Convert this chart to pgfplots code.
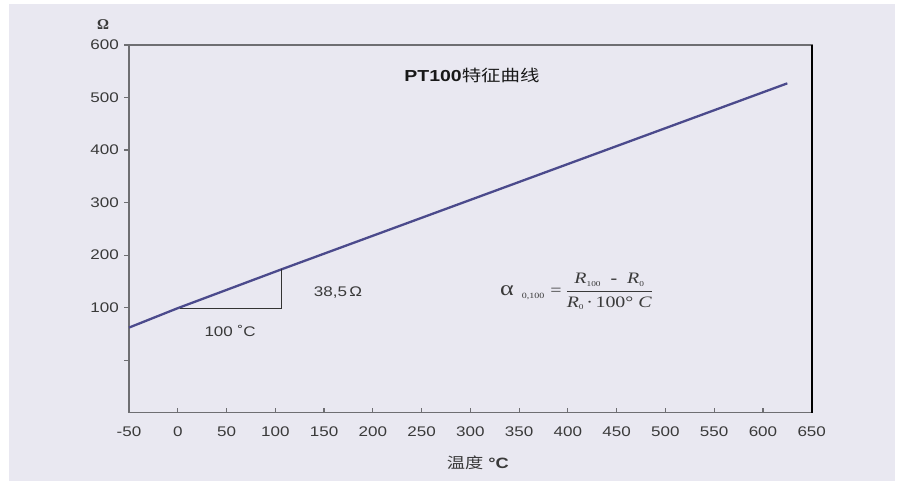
\documentclass[border=0pt]{standalone}
\usepackage{amsmath}
\usepackage{fontspec}
\setmainfont{Liberation Sans}[FakeStretch=1.22]
\newfontfamily\cjk{Noto Sans CJK SC}[FakeStretch=1.22]
\newfontfamily\seriffont{Liberation Serif}[FakeStretch=1.25]
\newfontfamily\omegafont{Liberation Serif}
\usepackage{pgfplots}
\pgfplotsset{compat=1.18}
\definecolor{panel}{HTML}{E9E8F1}
\definecolor{curve}{HTML}{4B4A8C}
\definecolor{axgray}{HTML}{6E6E72}
\definecolor{txt}{HTML}{3A3A3A}
\newcommand\sub[1]{\raisebox{-2.5bp}{\fontsize{7.5}{8}\selectfont\upshape #1}}
\begin{document}
\begin{tikzpicture}[x=1bp,y=1bp]
\path[use as bounding box] (0,0) rectangle (902,481);
\fill[white] (0,0) rectangle (902,481);
\fill[panel] (9,0) rectangle (895,477);
\begin{axis}[
  at={(129bp,68.3bp)}, anchor=south west,
  scale only axis, width=682.7bp, height=367.7bp,
  xmin=-50, xmax=650, ymin=-100, ymax=600,
  xtick={-50,0,50,...,650},
  xticklabels={-50,0,50,100,150,200,250,300,350,400,450,500,550,600,650},
  ytick={0,100,...,600},
  yticklabels={{},100,200,300,400,500,600},
  tick pos=left,
  xtick align=inside, ytick align=outside,
  major tick length=5bp,
  tick style={draw=axgray, line width=1.2bp},
  axis line style={draw=axgray, line width=1.6bp},
  /pgf/number format/assume math mode=true,
  ticklabel style={font=\fontsize{14}{16}\selectfont, text=txt, inner sep=0pt},
  yticklabel style={xshift=-5bp},
  xticklabel style={yshift=-14bp},
  xlabel={{\cjk 温度} \textbf{°C}},
  xlabel style={at={(rel axis cs:0.511,0)}, anchor=center, yshift=-50bp,
    font=\fontsize{15}{17}\selectfont, text=txt},
  clip=false,
]
\addplot[curve, line width=2.3bp] coordinates {(-50,62) (0,99) (106.5,173) (625,527)};
\addplot[black!80, line width=0.9bp] coordinates {(2,99) (106.5,99) (106.5,173)};
\draw[black, line width=1.6bp] (rel axis cs:1,0) -- (rel axis cs:1,1);
\node[font=\fontsize{16}{18}\selectfont, text=black!90] at (axis cs:301.7,543)
  {\textbf{PT100}{\cjk 特征曲线}};
\node[font=\fontsize{14}{16}\selectfont, text=txt] at (axis cs:164.3,128) {38,5\,Ω};
\node[font=\fontsize{14}{16}\selectfont, text=txt] at (axis cs:53.6,55.6) {100 ˚C};
\node[anchor=west, inner sep=0pt, text=txt, font=\seriffont\fontsize{16}{19}\selectfont]
  at (axis cs:330.4,130.5)
  {{\fontsize{21}{21}\selectfont α}\hspace{8bp}\raisebox{-3bp}{\fontsize{8}{8}\selectfont 0,100}\hspace{6bp}=\hspace{4bp}%
   $\dfrac{\text{\itshape R\sub{100}\ \ {\bfseries\upshape -}\ \ R\sub{0}}}{\text{\itshape R\sub{0}\,{\upshape ·\,100°} C}}$};
\end{axis}
\node[font=\omegafont\bfseries\fontsize{15}{17}\selectfont, text=txt] at (103,456) {Ω};
\end{tikzpicture}
\end{document}
